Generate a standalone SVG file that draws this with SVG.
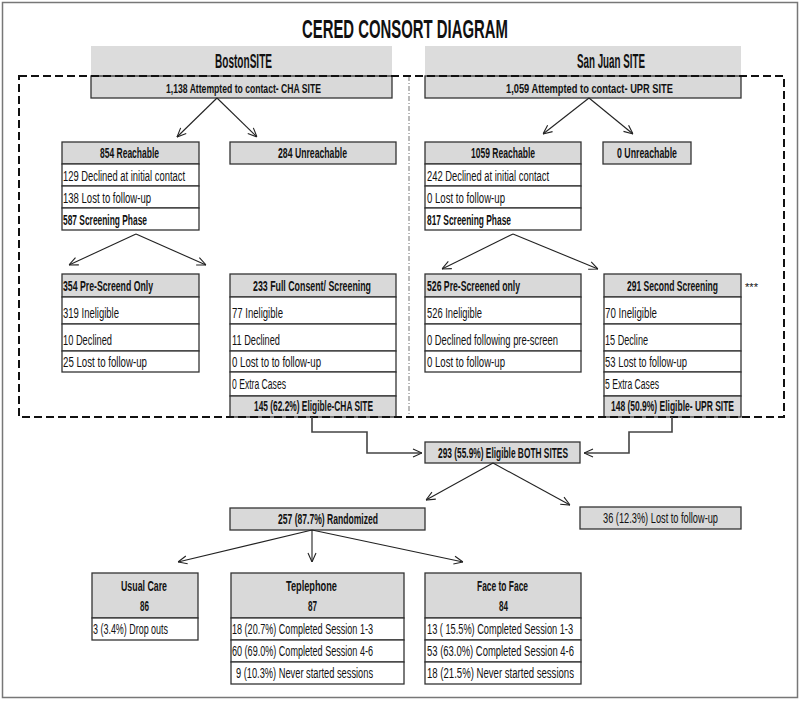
<svg xmlns="http://www.w3.org/2000/svg" width="800" height="701" viewBox="0 0 800 701">
<defs>
<marker id="ah" viewBox="0 0 10 10" refX="10" refY="5" markerWidth="10" markerHeight="10" markerUnits="userSpaceOnUse" orient="auto"><path d="M1,1 L10,5 L1,9" fill="none" stroke="#222" stroke-width="1.1"/></marker>
<style>
text{font-family:"Liberation Sans Narrow","Liberation Sans",Arial,sans-serif;fill:#111}
.t{font-size:14px}
.b{font-size:14px;font-weight:bold}
.s{font-size:12.5px;font-weight:bold}
.st{font-size:11px}
.site{font-size:20px;font-weight:bold}
.title{font-size:25px;font-weight:bold}
.hd{fill:#d9d9d9;stroke:#333;stroke-width:1.3}
.rw{fill:#fff;stroke:#333;stroke-width:1.3}
.sh{fill:#dcdcdc}
.ar{fill:none;stroke:#222;stroke-width:1.1;marker-end:url(#ah)}
.el{fill:none;stroke:#444;stroke-width:1.6;marker-end:url(#ah)}
</style>
</defs>
<rect x="2.5" y="2.5" width="795" height="695" fill="#fff" stroke="#777" stroke-width="1.5"/>
<text class="title" x="302" y="38" textLength="206" lengthAdjust="spacingAndGlyphs">CERED CONSORT DIAGRAM</text>

<g id="boston-site">
<rect class="sh" x="91" y="46" width="301" height="30"/>
<text class="site" x="215" y="68" textLength="57" lengthAdjust="spacingAndGlyphs">BostonSITE</text>
<rect class="hd" x="91" y="76" width="301" height="22"/>
<text class="s" x="166" y="93" textLength="155" lengthAdjust="spacingAndGlyphs">1,138 Attempted to contact- CHA SITE</text>
</g>
<g id="sanjuan-site">
<rect class="sh" x="425" y="46" width="316" height="30"/>
<text class="site" x="577" y="68" textLength="68" lengthAdjust="spacingAndGlyphs">San Juan SITE</text>
<rect class="hd" x="425" y="76" width="316" height="22"/>
<text class="s" x="506" y="93" textLength="167" lengthAdjust="spacingAndGlyphs">1,059 Attempted to contact- UPR SITE</text>
</g>

<g id="reach-b">
<rect class="hd" x="62" y="142" width="137" height="22"/>
<text class="b" x="100" y="158" textLength="59" lengthAdjust="spacingAndGlyphs">854 Reachable</text>
<rect class="rw" x="62" y="164" width="137" height="22"/>
<text class="t" x="63" y="181" textLength="122" lengthAdjust="spacingAndGlyphs">129 Declined at initial contact</text>
<rect class="rw" x="62" y="186" width="137" height="22"/>
<text class="t" x="63" y="203" textLength="88" lengthAdjust="spacingAndGlyphs">138 Lost to follow-up</text>
<rect class="rw" x="62" y="208" width="137" height="22"/>
<text class="b" x="63" y="225" textLength="84" lengthAdjust="spacingAndGlyphs">587 Screening Phase</text>
</g>
<g id="unreach-b">
<rect class="hd" x="230" y="142" width="166" height="22"/>
<text class="b" x="278" y="158" textLength="69" lengthAdjust="spacingAndGlyphs">284 Unreachable</text>
</g>
<g id="reach-s">
<rect class="hd" x="425" y="142" width="156" height="22"/>
<text class="b" x="471" y="158" textLength="64" lengthAdjust="spacingAndGlyphs">1059 Reachable</text>
<rect class="rw" x="425" y="164" width="156" height="22"/>
<text class="t" x="427" y="181" textLength="122" lengthAdjust="spacingAndGlyphs">242 Declined at initial contact</text>
<rect class="rw" x="425" y="186" width="156" height="22"/>
<text class="t" x="427" y="203" textLength="78" lengthAdjust="spacingAndGlyphs">0 Lost to follow-up</text>
<rect class="rw" x="425" y="208" width="156" height="22"/>
<text class="b" x="427" y="225" textLength="84" lengthAdjust="spacingAndGlyphs">817 Screening Phase</text>
</g>
<g id="unreach-s">
<rect class="hd" x="603" y="142" width="88" height="22"/>
<text class="b" x="617" y="158" textLength="60" lengthAdjust="spacingAndGlyphs">0 Unreachable</text>
</g>

<g id="prescreen-b">
<rect class="hd" x="62" y="274" width="137" height="23"/>
<text class="b" x="63" y="291" textLength="90" lengthAdjust="spacingAndGlyphs">354 Pre-Screend Only</text>
<rect class="rw" x="62" y="297" width="137" height="27"/>
<text class="t" x="63" y="318" textLength="56" lengthAdjust="spacingAndGlyphs">319 Ineligible</text>
<rect class="rw" x="62" y="324" width="137" height="27"/>
<text class="t" x="63" y="345" textLength="49" lengthAdjust="spacingAndGlyphs">10 Declined</text>
<rect class="rw" x="62" y="351" width="137" height="21"/>
<text class="t" x="63" y="367" textLength="84" lengthAdjust="spacingAndGlyphs">25 Lost to follow-up</text>
</g>
<g id="full-b">
<rect class="hd" x="230" y="274" width="166" height="23"/>
<text class="b" x="253" y="291" textLength="118" lengthAdjust="spacingAndGlyphs">233 Full Consent/ Screening</text>
<rect class="rw" x="230" y="297" width="166" height="27"/>
<text class="t" x="232" y="318" textLength="51" lengthAdjust="spacingAndGlyphs">77 Ineligible</text>
<rect class="rw" x="230" y="324" width="166" height="27"/>
<text class="t" x="232" y="345" textLength="48" lengthAdjust="spacingAndGlyphs">11 Declined</text>
<rect class="rw" x="230" y="351" width="166" height="21"/>
<text class="t" x="232" y="367" textLength="89" lengthAdjust="spacingAndGlyphs">0 Lost to to follow-up</text>
<rect class="rw" x="230" y="372" width="166" height="24"/>
<text class="t" x="232" y="389" textLength="54" lengthAdjust="spacingAndGlyphs">0 Extra Cases</text>
<rect class="hd" x="230" y="396" width="166" height="21"/>
<text class="b" x="254" y="411" textLength="119" lengthAdjust="spacingAndGlyphs">145 (62.2%) Eligible-CHA SITE</text>
</g>
<g id="prescreen-s">
<rect class="hd" x="425" y="274" width="156" height="23"/>
<text class="b" x="427" y="291" textLength="93" lengthAdjust="spacingAndGlyphs">526 Pre-Screened only</text>
<rect class="rw" x="425" y="297" width="156" height="27"/>
<text class="t" x="427" y="318" textLength="55" lengthAdjust="spacingAndGlyphs">526 Ineligible</text>
<rect class="rw" x="425" y="324" width="156" height="27"/>
<text class="t" x="0" y="0" transform="translate(427 345) scale(0.75 1)" textLength="174.7" lengthAdjust="spacingAndGlyphs">0 Declined following pre-screen</text>
<rect class="rw" x="425" y="351" width="156" height="21"/>
<text class="t" x="427" y="367" textLength="78" lengthAdjust="spacingAndGlyphs">0 Lost to follow-up</text>
</g>
<g id="second-s">
<rect class="hd" x="604" y="274" width="137" height="23"/>
<text class="b" x="0" y="0" transform="translate(627 291) scale(0.75 1)" textLength="121.3" lengthAdjust="spacingAndGlyphs">291 Second Screening</text>
<rect class="rw" x="604" y="297" width="137" height="27"/>
<text class="t" x="605" y="318" textLength="52" lengthAdjust="spacingAndGlyphs">70 Ineligible</text>
<rect class="rw" x="604" y="324" width="137" height="27"/>
<text class="t" x="605" y="345" textLength="43" lengthAdjust="spacingAndGlyphs">15 Decline</text>
<rect class="rw" x="604" y="351" width="137" height="21"/>
<text class="t" x="605" y="367" textLength="82" lengthAdjust="spacingAndGlyphs">53 Lost to follow-up</text>
<rect class="rw" x="604" y="372" width="137" height="24"/>
<text class="t" x="605" y="389" textLength="54" lengthAdjust="spacingAndGlyphs">5 Extra Cases</text>
<rect class="hd" x="604" y="396" width="137" height="21"/>
<text class="b" x="0" y="0" transform="translate(611 411) scale(0.75 1)" textLength="164" lengthAdjust="spacingAndGlyphs">148 (50.9%) Eligible- UPR SITE</text>
<text class="st" x="745" y="291" textLength="13" lengthAdjust="spacingAndGlyphs">***</text>
</g>

<g id="frame-lines">
<line x1="409" y1="76" x2="409" y2="417" stroke="#777" stroke-width="1" stroke-dasharray="5 2 1 2"/>
<rect x="19" y="76" width="765" height="341" fill="none" stroke="#111" stroke-width="2" stroke-dasharray="8 4"/>
</g>

<g id="both">
<rect class="hd" x="425" y="442" width="155" height="21"/>
<text class="b" x="438" y="458" textLength="130" lengthAdjust="spacingAndGlyphs">293 (55.9%) Eligible BOTH SITES</text>
</g>
<g id="randomized">
<rect class="hd" x="230" y="508" width="195" height="22"/>
<text class="b" x="278" y="524" textLength="100" lengthAdjust="spacingAndGlyphs">257 (87.7%) Randomized</text>
</g>
<g id="lost36">
<rect class="hd" x="580" y="507" width="161" height="22"/>
<text class="t" x="603" y="523" textLength="115" lengthAdjust="spacingAndGlyphs">36 (12.3%) Lost to follow-up</text>
</g>

<g id="usual">
<rect class="hd" x="92" y="573" width="106" height="45"/>
<text class="b" x="121" y="591" textLength="46" lengthAdjust="spacingAndGlyphs">Usual Care</text>
<text class="b" x="140" y="611" textLength="9" lengthAdjust="spacingAndGlyphs">86</text>
<rect class="rw" x="92" y="618" width="106" height="22"/>
<text class="t" x="93" y="634" textLength="75" lengthAdjust="spacingAndGlyphs">3 (3.4%) Drop outs</text>
</g>
<g id="tele">
<rect class="hd" x="231" y="573" width="173" height="45"/>
<text class="b" x="286" y="591" textLength="51" lengthAdjust="spacingAndGlyphs">Teplephone</text>
<text class="b" x="308" y="611" textLength="9" lengthAdjust="spacingAndGlyphs">87</text>
<rect class="rw" x="231" y="618" width="173" height="22"/>
<text class="t" x="0" y="0" transform="translate(232 634) scale(0.75 1)" textLength="188" lengthAdjust="spacingAndGlyphs">18 (20.7%) Completed Session 1-3</text>
<rect class="rw" x="231" y="640" width="173" height="22"/>
<text class="t" x="0" y="0" transform="translate(232 656) scale(0.75 1)" textLength="188" lengthAdjust="spacingAndGlyphs">60 (69.0%) Completed Session 4-6</text>
<rect class="rw" x="231" y="662" width="173" height="22"/>
<text class="t" x="0" y="0" transform="translate(236 678) scale(0.75 1)" textLength="182.7" lengthAdjust="spacingAndGlyphs">9 (10.3%) Never started sessions</text>
</g>
<g id="face">
<rect class="hd" x="425" y="573" width="156" height="45"/>
<text class="b" x="477" y="591" textLength="51" lengthAdjust="spacingAndGlyphs">Face to Face</text>
<text class="b" x="499" y="611" textLength="9" lengthAdjust="spacingAndGlyphs">84</text>
<rect class="rw" x="425" y="618" width="156" height="22"/>
<text class="t" x="0" y="0" transform="translate(427 634) scale(0.75 1)" textLength="194.7" lengthAdjust="spacingAndGlyphs">13 ( 15.5%) Completed Session 1-3</text>
<rect class="rw" x="425" y="640" width="156" height="22"/>
<text class="t" x="0" y="0" transform="translate(427 656) scale(0.75 1)" textLength="196" lengthAdjust="spacingAndGlyphs">53 (63.0%) Completed Session 4-6</text>
<rect class="rw" x="425" y="662" width="156" height="22"/>
<text class="t" x="0" y="0" transform="translate(427 678) scale(0.75 1)" textLength="196" lengthAdjust="spacingAndGlyphs">18 (21.5%) Never started sessions</text>
</g>

<g id="connectors">
<line class="ar" x1="217" y1="98" x2="177" y2="137"/>
<line class="ar" x1="217" y1="98" x2="257" y2="137"/>
<line class="ar" x1="589" y1="98" x2="543" y2="134"/>
<line class="ar" x1="589" y1="98" x2="633" y2="134"/>
<line class="ar" x1="136" y1="234" x2="69" y2="265"/>
<line class="ar" x1="136" y1="234" x2="206" y2="265"/>
<line class="ar" x1="513" y1="234" x2="442" y2="269"/>
<line class="ar" x1="513" y1="234" x2="598" y2="269"/>
<path class="el" d="M312,417 V432 H367 V453 H422"/>
<path class="el" d="M672,417 V432 H629 V453 H584"/>
<line class="ar" x1="493" y1="463" x2="426" y2="500"/>
<line class="ar" x1="493" y1="463" x2="570" y2="505"/>
<line class="ar" x1="312" y1="530" x2="178" y2="562"/>
<line class="ar" x1="312" y1="530" x2="312" y2="562"/>
<line class="ar" x1="312" y1="530" x2="463" y2="562"/>
</g>
</svg>
